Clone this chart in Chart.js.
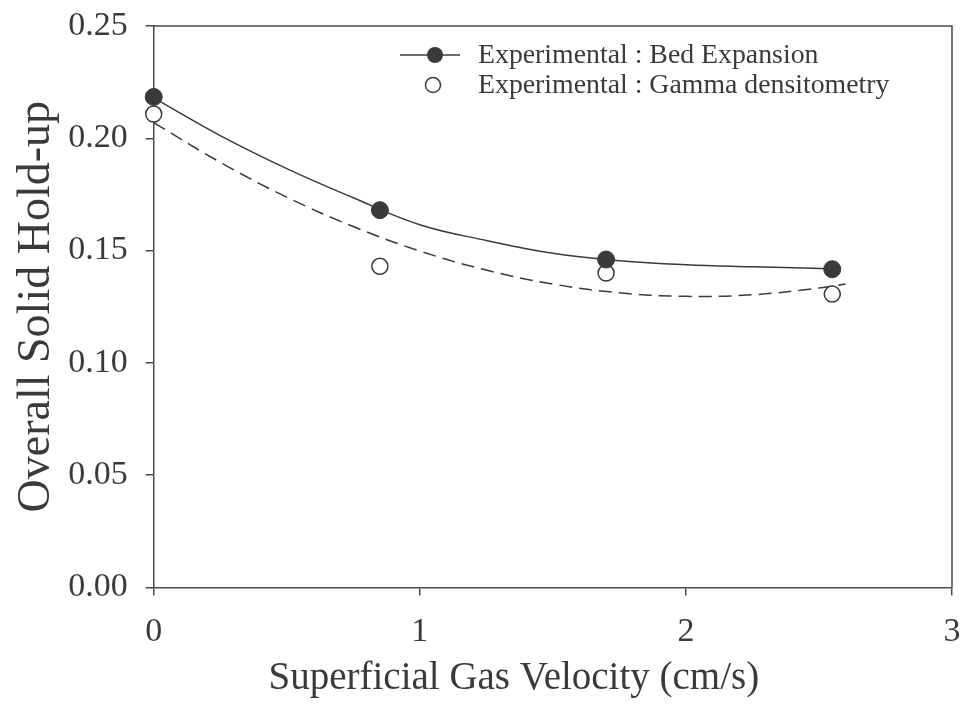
<!DOCTYPE html>
<html>
<head>
<meta charset="utf-8">
<script src="https://cdn.jsdelivr.net/npm/chart.js@4.4.1/dist/chart.umd.min.js"></script>
<style>
  html, body { margin: 0; padding: 0; background: #fff; }
  #wrap { width: 964px; height: 719px; }
</style>
</head>
<body>
<div id="wrap"><canvas id="myChart" width="964" height="719"></canvas></div>
<script>
'use strict';
// measured points
const velocity = [0, 0.85, 1.7, 2.55];
const bedExpansion = [0.2184, 0.168, 0.146, 0.1417];
const gammaDensity = [0.2108, 0.143, 0.140, 0.1306];

// fitted curves
const solidFitX = [0, 0.25, 0.5, 0.75, 1.0, 1.25, 1.5, 1.75, 2.0, 2.25, 2.57];
const solidFitY = [0.218, 0.2012, 0.1865, 0.1735, 0.1615, 0.1545, 0.1488, 0.1455, 0.1437, 0.1428, 0.1418];
const dashFitX = [0, 0.25, 0.5, 0.75, 1.0, 1.25, 1.5, 1.75, 2.0, 2.25, 2.5, 2.6];
const dashFitY = [0.207, 0.1893, 0.1738, 0.1607, 0.1498, 0.1413, 0.1351, 0.1312, 0.1296, 0.1303, 0.1333, 0.1351];

const xTicks = [0, 1, 2, 3];
const yTicks = [0, 0.05, 0.10, 0.15, 0.20, 0.25];

const legendNames = ['Experimental : Bed Expansion', 'Experimental : Gamma densitometry'];

const ink = '#3a3a3a';
const serif = "'Liberation Serif', 'Times New Roman', serif";

function pairs(xs, ys) {
    let out = [];
    for (let i = 0; i < xs.length; i++) {
        out.push({x: xs[i], y: ys[i]});
    }
    return out;
}

// labels may hang over the edges, the padding below does the spacing
function noLabelPadding(s) {
    s.paddingTop = 0;
    s.paddingBottom = 0;
    s.paddingLeft = 0;
    s.paddingRight = 0;
}

// box on top/right + legend inside the plot
const framePlugin = {
    id: 'frame',
    afterDraw(chart) {
        const ctx = chart.ctx;
        const a = chart.chartArea;
        ctx.save();
        ctx.strokeStyle = '#4a4a4a';
        ctx.lineWidth = 1.5;
        ctx.beginPath();
        ctx.moveTo(a.left, a.top);
        ctx.lineTo(a.right, a.top);
        ctx.lineTo(a.right, a.bottom);
        ctx.stroke();

        // legend
        const lx = a.right - 552;
        const y1 = a.top + 29;
        const y2 = a.top + 59;
        ctx.strokeStyle = ink;
        ctx.lineWidth = 1.5;
        ctx.beginPath();
        ctx.moveTo(lx, y1);
        ctx.lineTo(lx + 60, y1);
        ctx.stroke();
        ctx.fillStyle = ink;
        ctx.beginPath();
        ctx.arc(lx + 35, y1, 8, 0, Math.PI * 2);
        ctx.fill();
        ctx.fillStyle = '#fff';
        ctx.beginPath();
        ctx.arc(lx + 33, y2, 7.5, 0, Math.PI * 2);
        ctx.fill();
        ctx.stroke();

        ctx.fillStyle = ink;
        ctx.font = '27.8px ' + serif;
        ctx.textBaseline = 'middle';
        ctx.textAlign = 'left';
        ctx.fillText(legendNames[0], lx + 78, y1 + 1);
        ctx.fillText(legendNames[1], lx + 78, y2 + 1);
        ctx.restore();
    }
};

let context = document.getElementById('myChart').getContext('2d');
let chartObject = {
    type: 'scatter',
    data: {
        datasets: [{
            label: legendNames[0],
            data: pairs(velocity, bedExpansion),
            backgroundColor: ink,
            borderColor: ink,
            pointRadius: 8.5,
            pointBorderWidth: 1,
            showLine: false,
            clip: false,
            order: 1
        }, {
            label: legendNames[1],
            data: pairs(velocity, gammaDensity),
            backgroundColor: '#fff',
            borderColor: ink,
            pointRadius: 8,
            pointBorderWidth: 1.5,
            showLine: false,
            clip: false,
            order: 2
        }, {
            label: 'fit bed',
            data: pairs(solidFitX, solidFitY),
            borderColor: ink,
            borderWidth: 1.5,
            pointRadius: 0,
            showLine: true,
            tension: 0.4,
            order: 3
        }, {
            label: 'fit gamma',
            data: pairs(dashFitX, dashFitY),
            borderColor: ink,
            borderWidth: 1.5,
            borderDash: [13, 7],
            pointRadius: 0,
            showLine: true,
            tension: 0.4,
            order: 4
        }]
    },
    options: {
        responsive: false,
        animation: false,
        layout: { padding: { left: 0, right: 12, top: 26, bottom: 13 } },
        plugins: {
            legend: { display: false },
            tooltip: { enabled: false }
        },
        scales: {
            x: {
                type: 'linear',
                min: 0,
                max: 3,
                afterBuildTicks: (s) => { s.ticks = xTicks.map(v => ({value: v})); },
                afterFit: noLabelPadding,
                ticks: {
                    color: ink,
                    font: { family: serif, size: 34 },
                    padding: 16,
                    maxRotation: 0
                },
                grid: { drawOnChartArea: false, drawTicks: true, tickLength: 8, tickColor: '#4a4a4a', lineWidth: 1.5 },
                border: { display: true, color: '#4a4a4a', width: 1.5 },
                title: {
                    display: true,
                    text: 'Superficial Gas Velocity (cm/s)        ',
                    color: ink,
                    font: { family: serif, size: 39 },
                    padding: { top: -13, bottom: 4 }
                }
            },
            y: {
                type: 'linear',
                min: 0,
                max: 0.25,
                afterBuildTicks: (s) => { s.ticks = yTicks.map(v => ({value: v})); },
                afterFit: noLabelPadding,
                ticks: {
                    color: ink,
                    font: { family: serif, size: 34 },
                    padding: 18,
                    callback: (v) => v.toFixed(2)
                },
                grid: { drawOnChartArea: false, drawTicks: true, tickLength: 8, tickColor: '#4a4a4a', lineWidth: 1.5 },
                border: { display: true, color: '#4a4a4a', width: 1.5 },
                title: {
                    display: true,
                    text: 'Overall Solid Hold-up',
                    color: ink,
                    font: { family: serif, size: 46 },
                    padding: { top: 9, bottom: -14 }
                }
            }
        }
    },
    plugins: [framePlugin]
};

let chart = new Chart(context, chartObject);
</script>
</body>
</html>
